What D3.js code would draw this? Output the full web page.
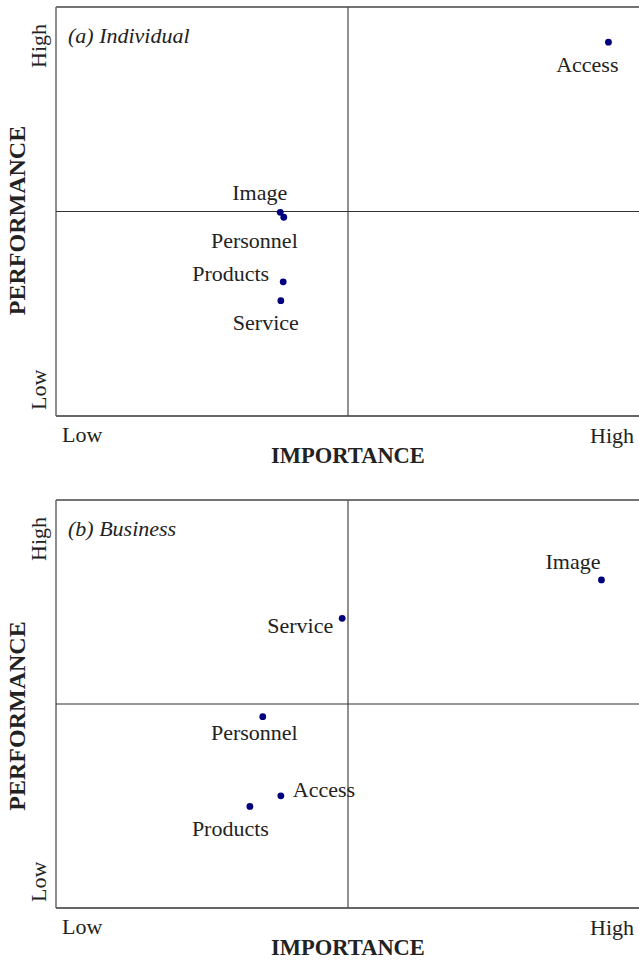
<!DOCTYPE html>
<html>
<head>
<meta charset="utf-8">
<script src="https://cdn.jsdelivr.net/npm/d3@7"></script>
<style>
  body { margin: 0; background: #fff; }
  text { font-family: "Liberation Serif", "Times New Roman", serif; fill: #222; }
</style>
</head>
<body>
<div id="chart"></div>
<script>

// Data (importance / performance on a 0-10 scale, midpoint = 5)
const individualNames = ["Access", "Image", "Personnel", "Products", "Service"];
const individualImportance = [9.46, 3.84, 3.90, 3.89, 3.85];
const individualPerformance = [9.14, 4.98, 4.86, 3.28, 2.82];

const businessNames = ["Image", "Service", "Personnel", "Access", "Products"];
const businessImportance = [9.34, 4.90, 3.54, 3.85, 3.32];
const businessPerformance = [8.04, 7.10, 4.69, 2.75, 2.49];

const axisTicks = ["Low", "High"];
const panelTitles = ["(a) Individual", "(b) Business"];

// Label placement for each point: [dx, dy, anchor]
const labelPlacement = [
  { Access: [10, 30, "end"], Image: [7, -12, "end"], Personnel: [14, 31, "end"],
    Products: [-14, -1, "end"], Service: [18, 29, "end"] },
  { Image: [-1, -11, "end"], Service: [-9, 15, "end"], Personnel: [35, 23, "end"],
    Access: [12, 1, "start"], Products: [19, 30, "end"] }
];

const width = 639;
const height = 961;

const panels = [
  { title: panelTitles[0], names: individualNames, imp: individualImportance, perf: individualPerformance, top: 7, bottom: 416 },
  { title: panelTitles[1], names: businessNames, imp: businessImportance, perf: businessPerformance, top: 500, bottom: 908 }
];

const svg = d3.select("#chart").append("svg")
  .attr("width", width)
  .attr("height", height);

const left = 56, right = 640;

panels.forEach((p, i) => {
  const x = d3.scaleLinear().domain([0, 10]).range([left, right]);
  const y = d3.scaleLinear().domain([0, 10]).range([p.bottom, p.top]);

  const g = svg.append("g");

  // frame + quadrant lines
  g.append("line").attr("x1", left).attr("x2", right).attr("y1", p.top).attr("y2", p.top)
    .attr("stroke", "#444").attr("stroke-width", 1.5);
  g.append("line").attr("x1", left).attr("x2", right).attr("y1", p.bottom).attr("y2", p.bottom)
    .attr("stroke", "#333").attr("stroke-width", 1.5);
  g.append("line").attr("x1", left).attr("x2", left).attr("y1", p.top).attr("y2", p.bottom)
    .attr("stroke", "#666").attr("stroke-width", 1.5);
  g.append("line").attr("x1", x(5)).attr("x2", x(5)).attr("y1", p.top).attr("y2", p.bottom)
    .attr("stroke", "#555").attr("stroke-width", 1.3);
  g.append("line").attr("x1", left).attr("x2", right).attr("y1", y(5)).attr("y2", y(5))
    .attr("stroke", "#333").attr("stroke-width", 1.2);

  // panel title
  g.append("text")
    .attr("x", left + 12)
    .attr("y", p.top + 36)
    .attr("font-size", 22)
    .attr("font-style", "italic")
    .text(p.title);

  // x tick labels
  g.append("text").attr("x", left + 6).attr("y", p.bottom + 26)
    .attr("font-size", 22).text(axisTicks[0]);
  g.append("text").attr("x", right - 6).attr("y", p.bottom + 27)
    .attr("text-anchor", "end").attr("font-size", 22).text(axisTicks[1]);
  g.append("text").attr("x", x(5)).attr("y", p.bottom + 47)
    .attr("text-anchor", "middle").attr("font-size", 22.5).attr("font-weight", "bold")
    .text("IMPORTANCE");

  // y tick labels (rotated)
  g.append("text")
    .attr("transform", `translate(46,${p.bottom - 6}) rotate(-90)`)
    .attr("font-size", 22).text(axisTicks[0]);
  g.append("text")
    .attr("transform", `translate(46,${p.top + 17}) rotate(-90)`)
    .attr("text-anchor", "end").attr("font-size", 22).text(axisTicks[1]);
  g.append("text")
    .attr("transform", `translate(25,${y(5) + 9 + i * 3}) rotate(-90)`)
    .attr("text-anchor", "middle").attr("font-size", 24).attr("font-weight", "bold")
    .text("PERFORMANCE");

  const pts = p.names.map((n, j) => ({ name: n, imp: p.imp[j], perf: p.perf[j] }));

  g.selectAll("circle")
    .data(pts)
    .join("circle")
    .attr("cx", d => x(d.imp))
    .attr("cy", d => y(d.perf))
    .attr("r", 3.4)
    .attr("fill", "#00007f");

  g.selectAll("text.lbl")
    .data(pts)
    .join("text")
    .attr("class", "lbl")
    .attr("x", d => x(d.imp) + labelPlacement[i][d.name][0])
    .attr("y", d => y(d.perf) + labelPlacement[i][d.name][1])
    .attr("text-anchor", d => labelPlacement[i][d.name][2])
    .attr("font-size", 22)
    .text(d => d.name);
});

</script>
</body>
</html>
